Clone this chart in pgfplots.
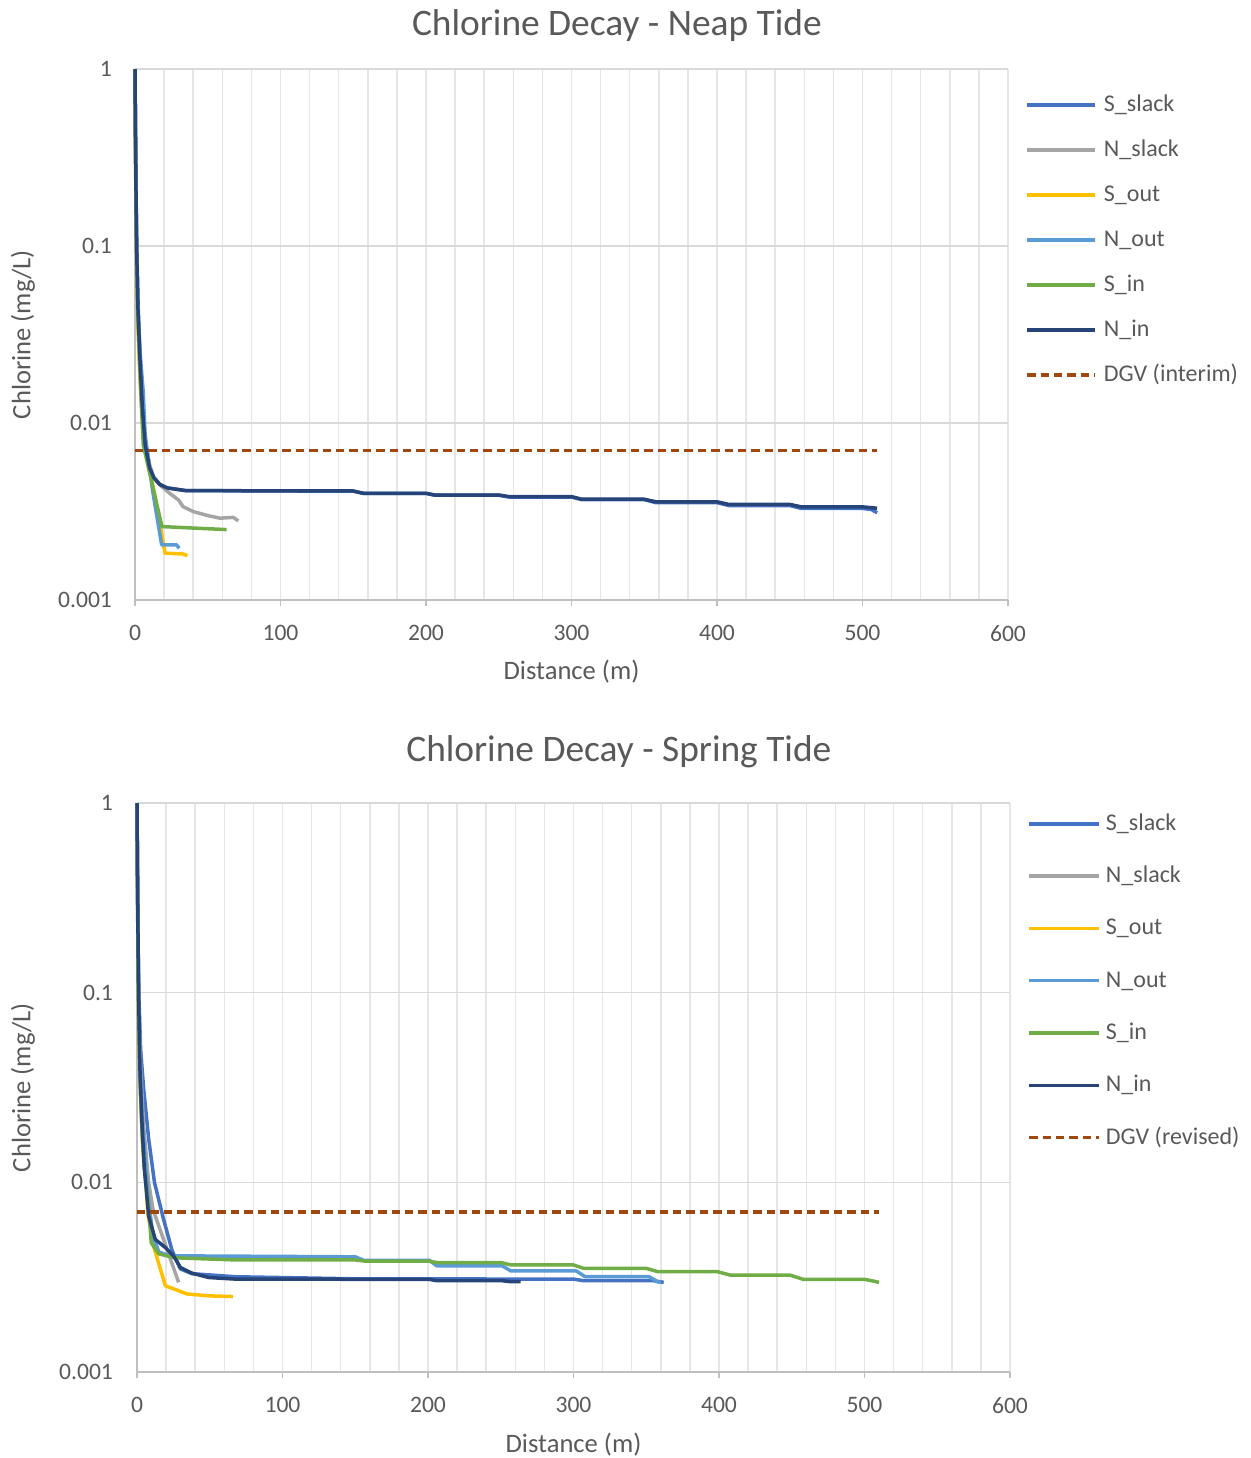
\documentclass[border=0pt]{standalone}
\usepackage{fontspec}
\setmainfont{Carlito}
\usepackage{pgfplots}
\pgfplotsset{compat=1.18}

\definecolor{cSslack}{HTML}{4472C4}
\definecolor{cNslack}{HTML}{A5A5A5}
\definecolor{cSout}{HTML}{FFC000}
\definecolor{cNout}{HTML}{5B9BD5}
\definecolor{cSin}{HTML}{70AD47}
\definecolor{cNin}{HTML}{264478}
\definecolor{cDGV}{HTML}{9E480E}
\definecolor{txt}{HTML}{595959}
\definecolor{gridc}{HTML}{D9D9D9}
\definecolor{gridv}{HTML}{E6E6E6}
\definecolor{axc}{HTML}{BFBFBF}

\begin{document}
\begin{tikzpicture}
\useasboundingbox (0,0) rectangle (625.5pt,-729pt);

% ---------------- Neap Tide ----------------
\begin{axis}[
  at={(67.5pt,-300pt)}, anchor=south west,
  scale only axis, width=436.5pt, height=265.5pt,
  ymode=log,
  xmin=0, xmax=600, ymin=0.001, ymax=1,
  xtick={0,100,200,300,400,500,600},
  xticklabels={0,100,200,300,400,500,600},
  minor xtick={20,40,60,80,120,140,160,180,220,240,260,280,320,340,360,380,420,440,460,480,520,540,560,580},
  ytick={0.001,0.01,0.1,1},
  yticklabels={0.001,0.01,0.1,1},
  minor ytick={},
  xmajorgrids=true, xminorgrids=true, ymajorgrids=true,
  x grid style={gridv, line width=0.75pt},
  minor x grid style={gridv, line width=0.75pt},
  y grid style={gridc, line width=0.75pt},
  axis x line*=bottom, axis y line*=left,
  axis line style={axc, line width=1pt},
  tick align=outside,
  major tick length=3pt, minor tick length=0pt,
  xtick style={axc, line width=0.75pt},
  ytick style={draw=none},
  xticklabel style={font=\fontsize{11.8}{13}\selectfont, text=txt, yshift=-6pt},
  yticklabel style={font=\fontsize{11.8}{13}\selectfont, text=txt, xshift=-5pt},
  title={Chlorine Decay - Neap Tide},
  title style={font=\fontsize{18.7}{21}\selectfont, text=txt, at={(rel axis cs:0.552,1)}, anchor=base, yshift=11pt},
  xlabel={Distance (m)},
  ylabel={Chlorine (mg/L)},
  xlabel style={font=\fontsize{13.3}{15}\selectfont, text=txt, at={(rel axis cs:0.5,0)}, anchor=base, yshift=-39.5pt},
  ylabel style={font=\fontsize{13.3}{15}\selectfont, text=txt, at={(rel axis cs:-0.1197,0.5)}, anchor=base},
  clip=false,
  legend cell align=left,
  legend image code/.code={\draw[#1, line cap=butt] (0pt,0pt) -- (34pt,0pt);},
  legend style={draw=none, fill=none, at={(rel axis cs:1.0195,0.955)}, anchor=north west,
    inner sep=0pt, row sep=11pt, font=\fontsize{12}{14}\selectfont, text=txt,
    nodes={inner sep=0pt, text height=9pt, text depth=2.5pt},
    /tikz/every odd column/.append style={column sep=3.5pt}},
]
\addplot[cSslack, line width=1.75pt, line join=round] coordinates {(0,1) (0.3,0.45) (0.7,0.2) (1.1,0.1) (2,0.045) (3.4,0.023) (5,0.0125) (7,0.0076) (10,0.0057) (13,0.0049) (17,0.0045) (22,0.0043) (35,0.00415) (150,0.00412) (157,0.00400) (200,0.00400) (206,0.00391) (250,0.00391) (257,0.00382) (300,0.00382) (307,0.00369) (350,0.00369) (358,0.00355) (400,0.00355) (408,0.00342) (450,0.00342) (458,0.00329) (500,0.00329) (506,0.00325) (510,0.00311)};
\addlegendentry{S\_slack}
\addplot[cNslack, line width=1.75pt, line join=round] coordinates {(0,1) (0.3,0.45) (0.7,0.2) (1.1,0.1) (2,0.045) (3.4,0.023) (5,0.0128) (7,0.008) (10,0.0058) (12.6,0.005) (18,0.0044) (24,0.0040) (30,0.00367) (33,0.00337) (40,0.00316) (50,0.0030) (58.4,0.0029) (67.6,0.00293) (71,0.0028)};
\addlegendentry{N\_slack}
\addplot[cSout, line width=1.75pt, line join=round] coordinates {(0,1) (0.3,0.4) (0.7,0.15) (1.1,0.08) (2,0.035) (3.5,0.017) (5.5,0.0095) (8,0.0068) (17.2,0.0027) (20.6,0.00184) (33,0.00182) (36,0.00178)};
\addlegendentry{S\_out}
\addplot[cNout, line width=1.75pt, line join=round] coordinates {(0,1) (0.3,0.5) (0.7,0.22) (1.2,0.1) (2.2,0.045) (3.5,0.025) (5.7,0.0148) (6.9,0.0087) (12,0.0042) (18.3,0.00205) (28.6,0.00205) (30.4,0.00196)};
\addlegendentry{N\_out}
\addplot[cSin, line width=1.75pt, line join=round] coordinates {(0,1) (0.3,0.4) (0.7,0.16) (1.1,0.09) (2,0.04) (3.4,0.02) (4.5,0.012) (5.7,0.0075) (18.5,0.0026) (40,0.00255) (63,0.0025)};
\addlegendentry{S\_in}
\addplot[cNin, line width=1.75pt, line join=round] coordinates {(0,1) (0.3,0.45) (0.7,0.2) (1.1,0.1) (2,0.045) (3.4,0.023) (5,0.0125) (7,0.0075) (10,0.0056) (13,0.0049) (17,0.0045) (22,0.0043) (35,0.00415) (150,0.00413) (157,0.00401) (200,0.00401) (206,0.00392) (250,0.00392) (257,0.00384) (300,0.00384) (307,0.00371) (350,0.00371) (358,0.00359) (400,0.00359) (408,0.00347) (450,0.00347) (458,0.00336) (500,0.00336) (505,0.00333) (510,0.0033)};
\addlegendentry{N\_in}
\addplot[cDGV, line width=1.75pt, dash pattern=on 4.2pt off 2.5pt] coordinates {(0,0.007) (510,0.007)};
\addlegendentry{DGV (interim)}
\end{axis}

% ---------------- Spring Tide ----------------
\begin{axis}[
  at={(68.5pt,-686pt)}, anchor=south west,
  scale only axis, width=436.5pt, height=284.5pt,
  ymode=log,
  xmin=0, xmax=600, ymin=0.001, ymax=1,
  xtick={0,100,200,300,400,500,600},
  xticklabels={0,100,200,300,400,500,600},
  minor xtick={20,40,60,80,120,140,160,180,220,240,260,280,320,340,360,380,420,440,460,480,520,540,560,580},
  ytick={0.001,0.01,0.1,1},
  yticklabels={0.001,0.01,0.1,1},
  minor ytick={},
  xmajorgrids=true, xminorgrids=true, ymajorgrids=true,
  x grid style={gridv, line width=0.75pt},
  minor x grid style={gridv, line width=0.75pt},
  y grid style={gridc, line width=0.75pt},
  axis x line*=bottom, axis y line*=left,
  axis line style={axc, line width=1pt},
  tick align=outside,
  major tick length=3pt, minor tick length=0pt,
  xtick style={axc, line width=0.75pt},
  ytick style={draw=none},
  xticklabel style={font=\fontsize{11.8}{13}\selectfont, text=txt, yshift=-6pt},
  yticklabel style={font=\fontsize{11.8}{13}\selectfont, text=txt, xshift=-5.5pt},
  title={Chlorine Decay - Spring Tide},
  title style={font=\fontsize{18.7}{21}\selectfont, text=txt, at={(rel axis cs:0.552,1)}, anchor=base, yshift=14.75pt},
  xlabel={Distance (m)},
  ylabel={Chlorine (mg/L)},
  xlabel style={font=\fontsize{13.3}{15}\selectfont, text=txt, at={(rel axis cs:0.5,0)}, anchor=base, yshift=-40pt},
  ylabel style={font=\fontsize{13.3}{15}\selectfont, text=txt, at={(rel axis cs:-0.122,0.5)}, anchor=base},
  clip=false,
  legend cell align=left,
  legend image code/.code={\draw[#1, line cap=butt] (0pt,0pt) -- (35pt,0pt);},
  legend style={draw=none, fill=none, at={(rel axis cs:1.0195,0.9845)}, anchor=north west,
    inner sep=0pt, row sep=14.65pt, font=\fontsize{12}{14}\selectfont, text=txt,
    nodes={inner sep=0pt, text height=9pt, text depth=2.5pt},
    /tikz/every odd column/.append style={column sep=2.5pt}},
]
\addplot[cSslack, line width=1.75pt, line join=round] coordinates {(0,1) (0.3,0.5) (0.7,0.2) (1.2,0.1) (2.5,0.05) (4.6,0.031) (8,0.017) (12,0.01) (18,0.0065) (24,0.0044) (29.8,0.0035) (37.8,0.0033) (67.6,0.00318) (150,0.0031) (300,0.00309) (307,0.00303) (355,0.00303) (362,0.00297)};
\addlegendentry{S\_slack}
\addplot[cNslack, line width=1.75pt, line join=round] coordinates {(0,1) (0.3,0.45) (0.7,0.2) (1.2,0.1) (2.5,0.04) (4.5,0.02) (8,0.01) (11,0.0072) (28.6,0.00297)};
\addlegendentry{N\_slack}
\addplot[cSout, line width=1.75pt, line join=round] coordinates {(0,1) (0.3,0.4) (0.7,0.15) (1,0.08) (2.3,0.03) (4,0.015) (6,0.01) (7.5,0.0068) (11.4,0.0046) (19.5,0.00285) (34.4,0.00258) (50,0.00252) (66,0.0025)};
\addlegendentry{S\_out}
\addplot[cNout, line width=1.75pt, line join=round] coordinates {(0,1) (0.3,0.45) (0.7,0.18) (1.1,0.1) (2,0.045) (3.5,0.022) (6,0.012) (8,0.008) (11,0.0052) (15,0.0043) (22,0.0041) (150,0.00405) (156,0.00388) (201,0.00388) (206,0.00363) (251,0.00363) (257,0.00341) (302,0.00341) (308,0.00318) (352,0.00318) (358,0.00299) (360,0.00297)};
\addlegendentry{N\_out}
\addplot[cSin, line width=1.75pt, line join=round] coordinates {(0,1) (0.3,0.4) (0.7,0.15) (1.1,0.08) (2,0.035) (3.5,0.018) (5,0.012) (8,0.0075) (9.8,0.0048) (14.9,0.0042) (26.3,0.0040) (67.6,0.0039) (150,0.0039) (156,0.00385) (200,0.00385) (206,0.00378) (250,0.00378) (257,0.00367) (300,0.00367) (307,0.00352) (350,0.00352) (358,0.00338) (399,0.00338) (408,0.00324) (449,0.00324) (458,0.00308) (500,0.00308) (505,0.00303) (510,0.00297)};
\addlegendentry{S\_in}
\addplot[cNin, line width=1.75pt, line join=round] coordinates {(0,1) (0.3,0.45) (0.7,0.2) (1.1,0.1) (2,0.04) (3.5,0.02) (5,0.012) (8,0.00665) (12.6,0.005) (19.5,0.00453) (25.2,0.00409) (29.8,0.00356) (37.8,0.00332) (49.3,0.00315) (67.6,0.00309) (201,0.00308) (206,0.00303) (251,0.00303) (256,0.0030) (263.6,0.0030)};
\addlegendentry{N\_in}
\addplot[cDGV, line width=1.75pt, dash pattern=on 4.2pt off 2.5pt] coordinates {(0,0.007) (510,0.007)};
\addlegendentry{DGV (revised)}
\end{axis}
\end{tikzpicture}
\end{document}
